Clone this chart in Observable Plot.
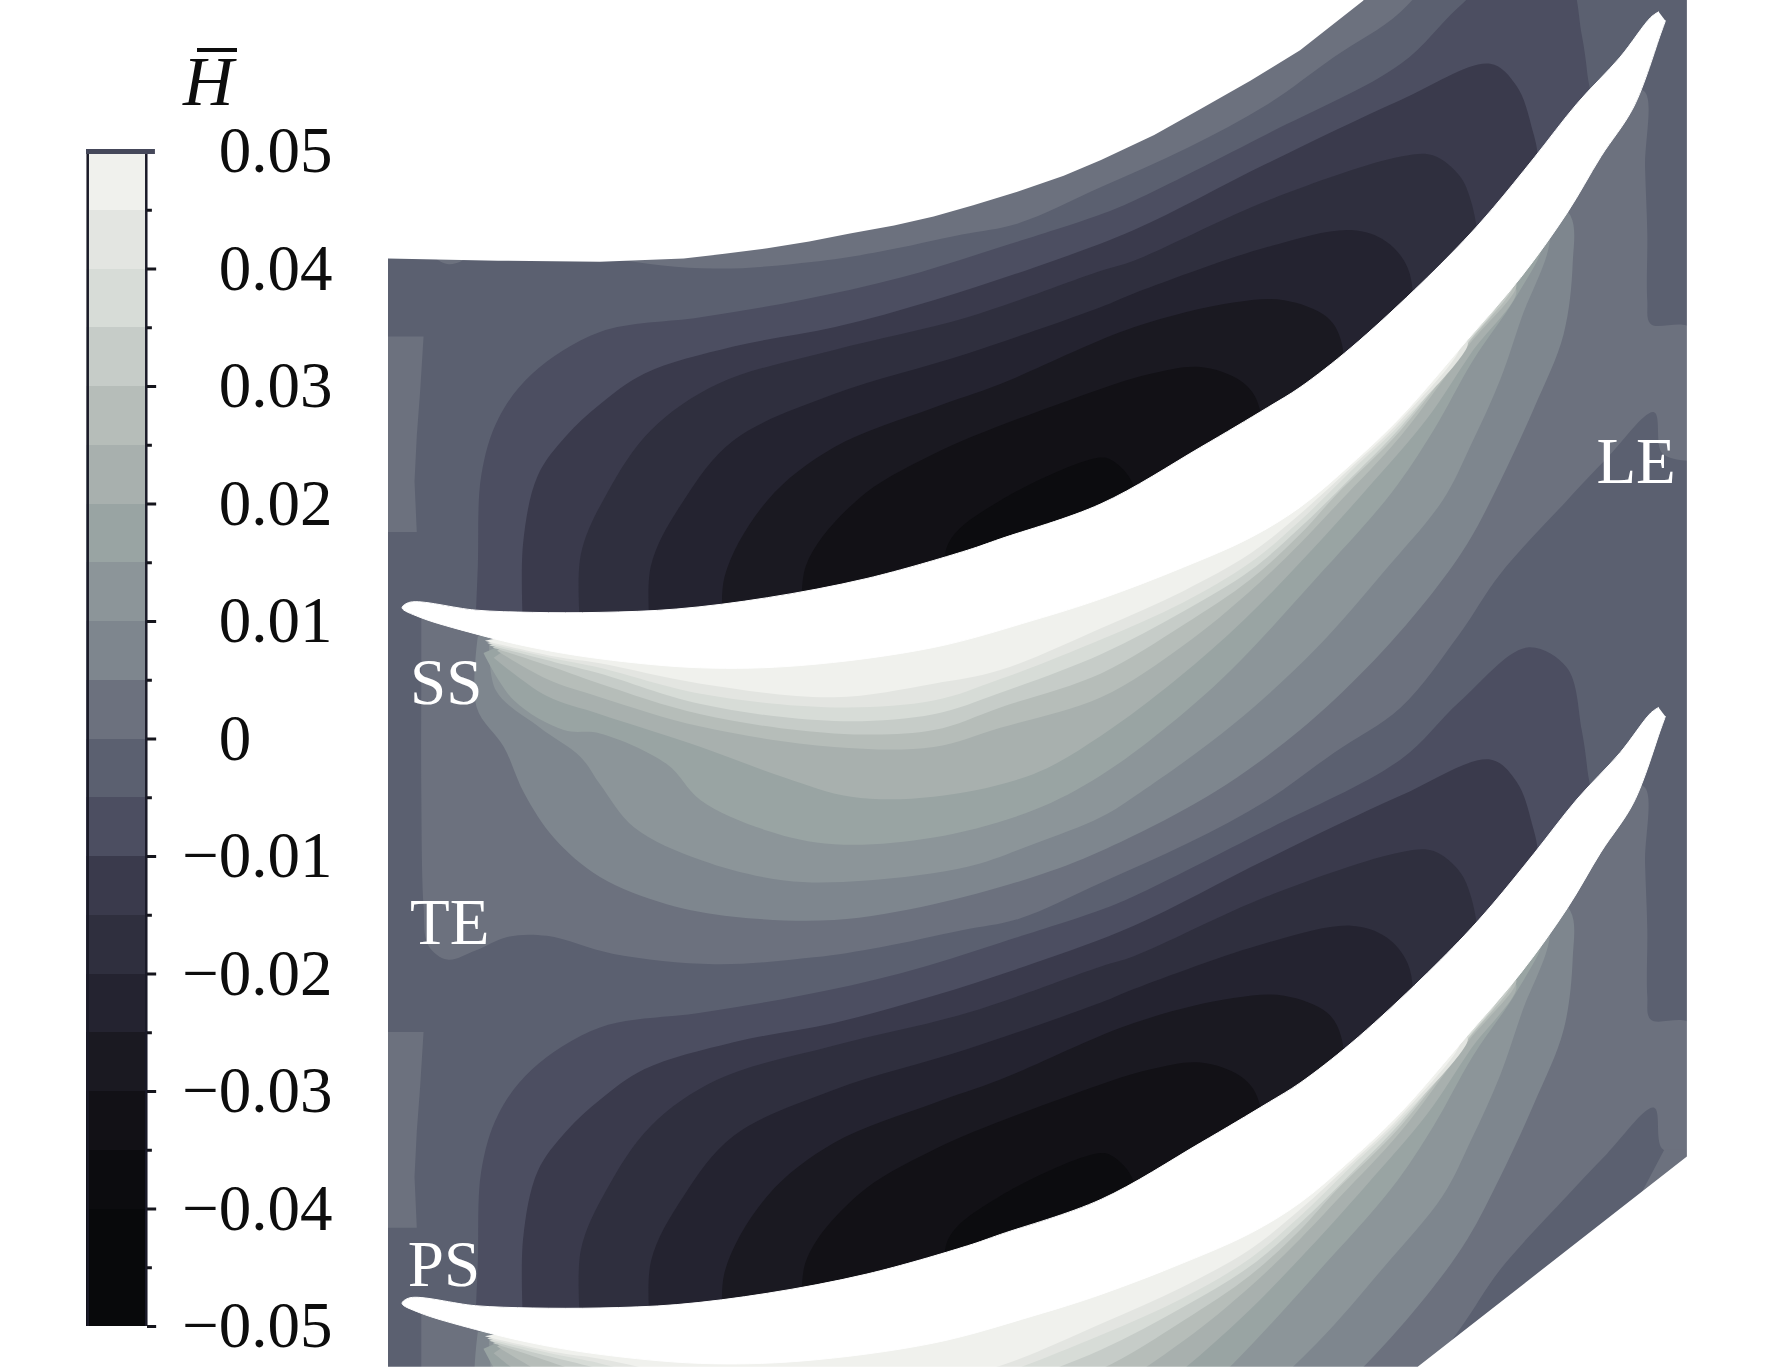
<!DOCTYPE html>
<html><head><meta charset="utf-8">
<script src="https://cdn.jsdelivr.net/npm/d3@7"></script>
<script src="https://cdn.jsdelivr.net/npm/@observablehq/plot@0.6"></script>
<style>
html,body{margin:0;padding:0;background:#fff}
#wrap{position:relative;width:1772px;height:1369px;overflow:hidden}
#bar{position:absolute;left:0;top:0}
#field{position:absolute;left:388px;top:0}
#title{position:absolute;left:183px;top:44px;font:italic 70px/76px "Liberation Serif",serif;color:#0d0d0d}
#title i{position:absolute;left:14px;top:4px;width:40px;height:4px;background:#0d0d0d}
</style></head><body>
<div id="wrap"><div id="bar"></div><div id="field"></div><div id="title">H<i></i></div></div>
<script>
// colour levels of H
const thresholds=[-0.045,-0.04,-0.035,-0.03,-0.025,-0.02,-0.015,-0.01,-0.005,0,0.005,0.01,0.015,0.02,0.025,0.03,0.035,0.04,0.045];
const bandColors=["#08090b","#08090b","#0c0c0f","#121116","#1a1921","#242330","#2f2f3e","#3a3a4c","#4c4e61","#5b6070","#6c717e","#7e868e","#8c9599","#99a4a3","#a8b0ae","#b6bdb9","#c6ccc8","#d7dcd7","#e3e5e1","#f0f1ed"];
const bandEdges=[-0.05,...thresholds,0.05];
const tickValues=[0.05,0.04,0.03,0.02,0.01,0,-0.01,-0.02,-0.03,-0.04,-0.05];
const tickLabels=["0.05","0.04","0.03","0.02","0.01","0","0.01","0.02","0.03","0.04","0.05"];
const minorTicks=[0.045,0.035,0.025,0.015,0.005,-0.005,-0.015,-0.025,-0.035,-0.045];
const bladePitch=[-615,0,615];

// blade outline
const blade=[[1466,10],[1459,15],[1432,50],[1394,91],[1356,139],[1320,183],[1294,212],[1250,256],[1194,307],[1149,342],[1120,360],[1061,395],[973,445],[884,476],[855,486],[766,511],[678,528],[598,538],[530,541],[470,541],[420,539],[362,532],[355,537],[370,545],[420,560],[470,572],[530,582],[619,590],[707,588],[825,572],[913,548],[973,529],[1046,501],[1105,475],[1149,448],[1194,410],[1238,368],[1297,300],[1344,245],[1385,188],[1415,138],[1444,94],[1468,29],[1472,18]];
const spine=[[1462,25],[1420,90],[1360,170],[1300,245],[1230,320],[1150,400],[1050,455],[950,490],[850,525],[750,550],[650,565],[550,565],[470,558],[420,550],[375,541]];

// negative iso-bands above the blade
const neg005=[[420,550],[422,500],[425,420],[440,370],[470,330],[530,293],[619,280],[707,265],[796,245],[884,218],[973,189],[1002,177],[1120,118],[1238,56],[1290,5],[1350,-43],[1385,-25],[1398,30],[1403,65],[1405,95]];
const neg010=[[462,555],[462,480],[475,420],[500,385],[530,357],[569,330],[648,306],[737,289],[825,265],[914,236],[1002,203],[1120,144],[1238,88],[1317,56],[1340,75],[1353,109],[1358,150]];
const neg015=[[513,560],[513,490],[536,436],[575,380],[634,339],[737,309],[855,280],[973,239],[1002,230],[1120,177],[1238,138],[1267,137],[1290,155],[1300,177],[1306,215]];
const neg020=[[575,565],[575,500],[604,442],[648,389],[737,348],[855,312],[973,271],[1002,259],[1120,218],[1194,203],[1225,213],[1244,236],[1248,270]];
const neg025=[[640,565],[640,510],[678,442],[737,395],[825,360],[884,339],[1002,289],[1090,267],[1135,265],[1173,280],[1185,300],[1186,330]];
const neg030=[[710,560],[712,500],[757,442],[825,401],[943,354],[1017,330],[1061,324],[1096,336],[1111,354],[1113,390]];
const neg035=[[835,530],[838,480],[884,442],[973,404],[985,408],[1000,425],[1003,445]];

// positive iso-bands below the blade
const pos000=[[372,545],[372,600],[372,700],[374,800],[378,835],[395,848],[420,840],[448,828],[483,827],[542,843],[631,852],[719,846],[778,837],[850,822],[900,812],[973,780],[1050,745],[1120,707],[1179,665],[1238,625],[1290,560],[1326,507],[1385,442],[1420,405],[1462,364],[1469,400],[1491,407],[1495,407],[1495,290],[1459,286],[1456,265],[1456,206],[1454,147],[1453,80]];
const pos005=[[422,562],[421,625],[445,660],[463,701],[489,740],[530,775],[589,799],[648,810],[737,813],[825,799],[913,775],[973,752],[1073,700],[1149,645],[1208,590],[1261,530],[1297,480],[1326,425],[1356,360],[1382,295],[1390,233],[1388,190]];
const pos010=[[432,565],[438,610],[477,643],[513,669],[530,693],[560,731],[619,760],[693,778],[766,778],[855,766],[913,746],[973,722],[1008,700],[1090,640],[1164,572],[1223,505],[1275,442],[1300,393],[1326,335],[1345,280],[1370,210]];
const pos015=[[427,577],[454,619],[498,645],[530,648],[589,675],[619,707],[678,734],[737,746],[825,740],[913,716],[973,685],[1040,635],[1090,590],[1164,510],[1230,435],[1267,380],[1302,318],[1340,262],[1365,212]];
const pos020=[[436,581],[483,615],[530,631],[619,660],[693,687],[752,704],[825,704],[913,684],[973,650],[1040,600],[1100,547],[1149,497],[1208,432],[1261,370],[1300,312],[1340,255]];
const pos025=[[439,575],[483,600],[530,616],[619,642],[737,660],[825,660],[884,643],[973,616],[1046,570],[1105,522],[1149,480],[1185,442],[1238,385],[1297,306],[1340,250]];
const pos030=[[435,572],[490,590],[530,604],[619,631],[737,648],[825,645],[884,625],[973,595],[1046,552],[1105,512],[1149,472],[1180,438],[1238,380],[1297,304],[1338,248]];
const pos035=[[432,570],[490,585],[530,595],[619,622],[737,637],[825,631],[884,612],[973,578],[1046,540],[1105,504],[1149,466],[1194,422],[1238,377],[1297,303],[1325,262]];
const pos040=[[430,568],[490,582],[530,590],[619,613],[737,625],[825,619],[884,600],[973,565],[1046,532],[1105,497],[1149,460],[1194,416],[1238,374],[1297,302]];
const pos045=[[428,566],[490,580],[530,586],[619,604],[737,616],[825,604],[884,592],[973,555],[1046,522],[1105,489],[1149,454],[1194,413],[1238,371],[1290,305]];

const negBands=[[neg005,-0.0075],[neg010,-0.0125],[neg015,-0.0175],[neg020,-0.0225],[neg025,-0.0275],[neg030,-0.0325],[neg035,-0.0375]];
const posBands=[[pos000,0.0025],[pos005,0.0075],[pos010,0.0125],[pos015,0.0175],[pos020,0.0225],[pos025,0.0275],[pos030,0.0325],[pos035,0.0375],[pos040,0.0425],[pos045,0.0475]];

// small plateaus at the outlet and the inlet corner
const outletPatch=[[340,297],[374,297],[371,345],[368,385],[366,425],[368,470],[340,470]];
const inletSliver=[[1471,1016],[1495,1016],[1495,1060],[1450,1056]];

// domain: field base and outline
const fieldBase=[[340,-5],[1495,-5],[1495,1215],[340,1215]];
const topOutline=[[340,228],[440,230],[530,231],[604,228],[640,224],[678,219],[715,213],[751,206],[790,199],[825,191],[860,181],[899,169],[940,155],[973,141],[1020,119],[1061,96],[1105,71],[1149,44],[1205,0],[1205,-5],[340,-5]];
const rightOutline=[[1491,-5],[1491,1022],[1253,1208],[340,1208],[340,1215],[1570,1215],[1570,-5]];
const regionLabels=[["LE",1411,427],["SS",362,622],["TE",362,834],["PS",360,1137]];

const colorScale={type:"threshold",domain:thresholds,range:bandColors};
const toPts=(a,dy=0)=>a.map(([x,y])=>({x,y:y+dy}));
const closed=a=>{const x0=a[0][0],x1=a[a.length-1][0];return [...a,...spine.filter(p=>p[0]<x1&&p[0]>x0)];};
const poly=(a,dy,opts)=>Plot.line(toPts(a,dy),{x:"x",y:"y",stroke:"none",curve:"catmull-rom",...opts});
const filled=(a,dy,v)=>poly(a,dy,{fill:()=>v});

const marks=[poly(fieldBase,0,{fill:()=>-0.0025,curve:"linear"})];
for(const dy of [0,615]) marks.push(poly(outletPatch,dy,{fill:()=>0.0025,curve:"linear"}));
for(const dy of bladePitch){
  for(const [a,v] of posBands) marks.push(filled(closed(a),dy,v));
  if(dy>=0) for(const [a,v] of negBands) marks.push(filled(closed(a),dy,v));
}
marks.push(poly(inletSliver,0,{fill:()=>0.0025,curve:"linear"}));
for(const dy of [0,615]) marks.push(poly(blade,dy,{fill:"#fff",stroke:"#fff",strokeWidth:1}));
marks.push(poly(topOutline,0,{fill:"#fff",curve:"linear"}));
marks.push(poly(rightOutline,0,{fill:"#fff",curve:"linear"}));
marks.push(Plot.text(regionLabels,{x:d=>d[1],y:d=>d[2],text:d=>d[0],fill:"#fff",fontSize:65,fontFamily:"Liberation Serif",textAnchor:"start",lineAnchor:"bottom"}));

document.getElementById("field").append(Plot.plot({
  width:1384,height:1369,margin:0,
  x:{domain:[343,1566.7],range:[0,1384],axis:null},
  y:{domain:[0,1210.4],range:[0,1369],axis:null},
  color:colorScale,
  style:{background:"transparent"},
  marks
}));

const bands=bandColors.map((c,i)=>({y1:bandEdges[i],y2:bandEdges[i+1],v:(bandEdges[i]+bandEdges[i+1])/2}));
document.getElementById("bar").append(Plot.plot({
  width:388,height:1369,margin:0,
  x:{domain:[0,1],range:[86,147],axis:null},
  y:{domain:[-0.05,0.05],range:[1326,151],axis:null},
  color:colorScale,
  style:{background:"transparent"},
  marks:[
    Plot.rectY(bands,{x1:0,x2:1,y1:"y1",y2:"y2",fill:"v",inset:0,shapeRendering:"crispEdges"}),
    Plot.ruleX([0.02,0.98],{y1:-0.05,y2:0.05,stroke:"#1a1a28",strokeWidth:2.5}),
    Plot.ruleY(tickValues.slice(1),{x1:1,x2:1.15,stroke:"#15151c",strokeWidth:3}),
    Plot.ruleY(minorTicks,{x1:1,x2:1.08,stroke:"#15151c",strokeWidth:3}),
    Plot.ruleY([0.05],{x1:0,x2:1.13,stroke:"#45485a",strokeWidth:5}),
    Plot.text(tickValues,{x:2.17,y:d=>d,text:(d,i)=>tickLabels[i],textAnchor:"start",lineAnchor:"middle",fontSize:65,fontFamily:"Liberation Serif",fill:"#0d0d0d"}),
    Plot.text(tickValues.filter(d=>d<0),{x:2.17,y:d=>d,text:()=>"\u2212",textAnchor:"end",lineAnchor:"middle",fontSize:65,fontFamily:"Liberation Serif",fill:"#0d0d0d"})
  ]
}));
</script>
</body></html>
